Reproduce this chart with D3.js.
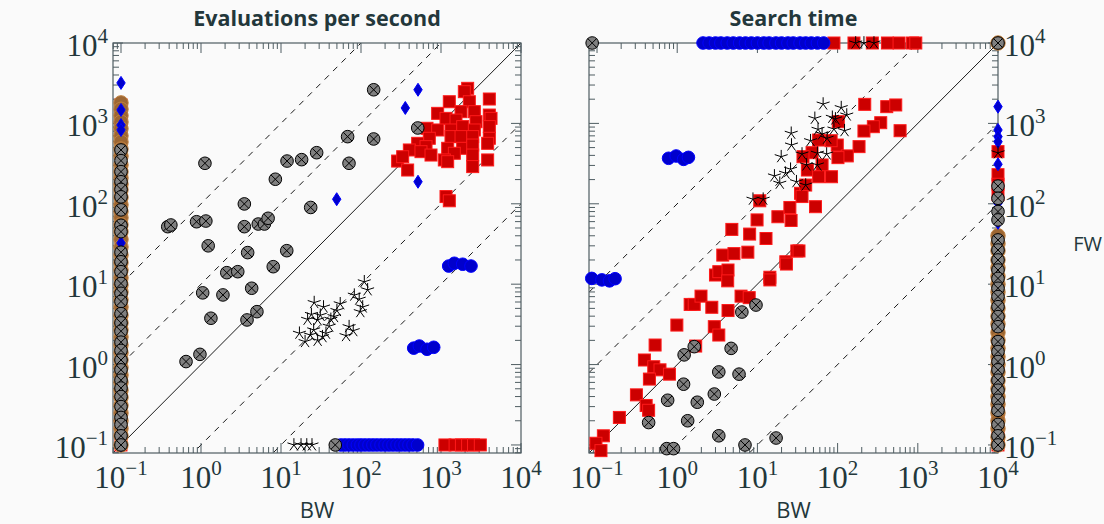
<!DOCTYPE html>
<html>
<head>
<meta charset="utf-8">
<script src="https://cdn.jsdelivr.net/npm/d3@7"></script>
<style>
body { margin: 0; background: #fafafa; }
svg { display: block; }
</style>
</head>
<body>
<svg id="chart" width="1104" height="524"></svg>
<script>
// ---- data ----
// values of 0.1 = "zero" on the log axes, 1e4 = timeout
const majorTicks = [0.1, 1, 10, 100, 1000, 10000];
const tickExponents = ['−1', '0', '1', '2', '3', '4'];
const diagFactors = [0.01, 0.1, 1, 10, 100];

// Evaluations per second: [BW, FW]
const evalRed = [[2154,2730],[1957,2480],[1270,1860],[2260,1860],[4020,2010],[1780,1400],[2610,1400],[908,1333],[1155,1155],[1540,1100],[2740,1050],[4020,1270],[4220,1155],[668,869],[908,828],[1333,828],[1866,912],[2610,828],[4020,912],[714,653],[1333,685],[1780,685],[2490,685],[4020,653],[511,565],[650,514],[402,467],[562,445],[750,404],[1212,490],[1866,490],[2490,538],[3830,565],[1468,425],[1100,351],[1212,334],[2490,404],[2490,290],[3830,351],[287,340],[332,385],[383,263],[1155,123],[1270,109],
  [1120,0.1],[1500,0.1],[1800,0.1],[2150,0.1],[2550,0.1],[3100,0.1],
  [0.1,1700],[0.1,1350],[0.1,1080],[0.1,850],[0.1,0.1]];
const evalBrownFW = [1800,1500,1250,1040,860,700,587,480,390,304,250,210,175,149,120,97,80,67,55,45,36,29,23,18.5,15,12,9.8,8,6.4,5.2,4.1,3.3,2.7,2.2,1.75,1.4,1.14,0.92,0.74,0.6,0.48,0.39,0.31,0.25,0.2,0.16,0.13,0.1];
const evalBlue = [[1248,16.8],[1468,18.2],[1866,17.7],[2371,16.8],[456,1.6],[536,1.7],[668,1.55],[811,1.64]];
const evalBlueZeroFW = [56,63,71,80,90,100,112,126,141,158,178,200,224,251,282,316,355,398,447,510];
const evalDiamond = [[516,2620],[358,1556],[516,188],[49.7,114],[0.1,3190],[0.1,1470],[0.1,955],[0.1,828],[0.1,32.5],[0.1,0.1]];
const evalStar = [[110,10.7],[121,8.5],[82.5,7.3],[95,6.5],[55,5.7],[50,4.7],[105,5.2],[98,4.55],[26,5.9],[34,5.2],[24,4.2],[31,4.1],[21.5,3.65],[42,3.65],[46,3.95],[40,3.0],[28.7,3.6],[25.6,2.7],[36.5,2.45],[17,2.45],[20,1.93],[23.3,2.33],[28.7,2.0],[71,2.96],[80,2.64],[65,2.29],[33,2.22],
  [14.5,0.1],[17.8,0.1],[21,0.1],[24.4,0.1]];
const evalGray = [[144,2620],[512,877],[68,684],[144,640],[1.12,319],[11.9,340],[18.1,354],[27.9,432],[70.8,319],[8.5,202],[3.48,99.6],[23.5,90],[0.384,51.9],[0.42,54.5],[0.88,59.8],[1.15,61],[3.48,51.9],[5.2,56],[6.2,56],[6.9,66],[1.23,30],[3.83,24.7],[11.8,26.1],[8.0,16.5],[2.1,13.9],[2.88,14.3],[1.05,7.8],[1.88,7.35],[4.3,8.9],[5.0,4.55],[3.76,3.59],[1.33,3.77],[0.65,1.09],[0.97,1.34],[47.7,0.1]];
const evalGrayZeroBW = [467,344,251,188,151,122,84,54,45,25,19,14.3,10.2,7.7,6.1,4.3,3.3,2.6,1.9,1.5,1.14,0.86,0.64,0.51,0.40,0.30,0.22,0.18,0.13,0.1];

// Search time: [BW, FW]
const searchRed = [[218,1725],[410,1615],[531,1695],[345,1020],[279,910],[213,804],[601,811],[102,1050],[185,514],[99,538],[132,394],[101,375],[64,304],[58,621],[83,609],[48,432],[37,385],[42,263],[58,217],[84,217],[34.5,135],[40,171],[36,123],[53,92],[10.7,109],[25.4,90],[18,69],[26.3,62],[9.9,63],[4.8,48],[8.0,42],[12.8,37],[3.7,23],[5.1,24],[7.6,25],[3.0,13],[3.3,14.3],[4.3,15],[4.26,11],[6.25,7.1],[7.9,6.8],[14.3,12.2],[14.3,11.3],[22.6,19],[23,17.8],[31,25.9],[33,25.9],[1.45,5.6],[1.63,5.6],[1.98,7.1],[2.7,5.16],[4.3,4.7],[0.99,3.1],[2.9,2.96],[3.3,2.33],[1.7,1.7],[0.53,1.75],[0.39,1.14],[0.51,0.94],[0.61,0.86],[0.80,0.76],[0.45,0.66],[0.31,0.42],[0.41,0.31],[0.44,0.27],[0.19,0.22],[0.12,0.13],[0.097,0.105],[0.112,0.085],
  [90,1e4],[160,1e4],[271,1e4],[418,1e4],[584,1e4],[858,1e4],[944,1e4],
  [1e4,445],[1e4,230],[1e4,175],[1e4,130],[1e4,1.0],[1e4,0.33],[1e4,0.2],[1e4,0.13],[1e4,0.1]];
const searchBrownFW = [1e4,40,32,26,20,16,12.5,10,8,6.3,5,4,3.2,2.5,2,1.6,1.25,1,0.8,0.63,0.5,0.4,0.32,0.25,0.2,0.16,0.125,0.1];
const searchBlue = [[0.78,368],[0.97,393],[1.2,357],[1.38,378],[0.086,11.8],[0.115,11.3],[0.143,11],[0.168,11.7]];
const searchBlueTimeoutBW = [2.1,2.5,3.0,3.5,4.2,5.0,6.0,7.1,8.4,10,12,14,17,20,24,28,34,40,47,56,67];
const searchDiamondFW = [1615,828,684,592,310,102,58,0.1];
const searchStar = [[66,1740],[111,1570],[130,1270],[86,1190],[52,1155],[94,1135],[90,851],[122,811],[57,843],[26.4,753],[26.6,538],[46,609],[74,653],[64,738],[19.8,385],[36,416],[56,425],[73,416],[41,304],[56,304],[25.9,269],[22.4,240],[16.3,222],[19,180],[30.7,188],[40,171],[8.8,114],[11.8,114],
  [168,1e4],[213,1e4],[284,1e4],[1e4,430]];
const searchGray = [[6.4,4.5],[9.6,5.5],[1.63,1.67],[1.22,1.32],[4.7,1.59],[3.3,0.81],[5.9,0.76],[1.2,0.57],[0.76,0.36],[1.78,0.34],[2.9,0.43],[0.44,0.19],[1.35,0.2],[3.3,0.13],[7.0,0.1],[17.1,0.122],[0.74,0.09],[0.9,0.09],[0.087,1e4],[1e4,1e4]];
const searchGrayTimeoutFW = [166,117,80,63,35.5,26.6,20,15,11.8,8.9,7.0,5.25,3.95,2.96,1.93,1.45,1.09,0.86,0.64,0.48,0.36,0.27,0.18,0.13,0.1];

// ---- drawing ----
const textColor = '#23373b';
const axisColor = '#4f5d62';
const svg = d3.select('#chart');
svg.append('rect').attr('width', 1104).attr('height', 524).attr('fill', '#fafafa');

const domain = [Math.pow(10, -1.1), 1e4];

function marker(g, kind) {
    if (kind === 'red') {
        g.append('rect').attr('x', -6).attr('y', -6).attr('width', 12).attr('height', 12)
            .attr('fill', '#cc0000').attr('stroke', '#ff1a1a').attr('stroke-width', 1);
    } else if (kind === 'brown') {
        g.append('circle').attr('r', 7.2).attr('fill', '#9c6633').attr('stroke', '#bf8040').attr('stroke-width', 1);
    } else if (kind === 'blue') {
        g.append('circle').attr('r', 6.3).attr('fill', '#0000cc').attr('stroke', '#0000ff').attr('stroke-width', 1);
    } else if (kind === 'diamond') {
        g.append('path').attr('d', 'M0,-6.5L4.2,0L0,6.5L-4.2,0Z')
            .attr('fill', '#0000cc').attr('stroke', '#0000ff').attr('stroke-width', 1);
    } else if (kind === 'star') {
        const r = 6.8;
        let d = '';
        [90, 162, 234, 306, 18].forEach(a => {
            const t = a * Math.PI / 180;
            d += `M0,0L${(r * Math.cos(t)).toFixed(2)},${(-r * Math.sin(t)).toFixed(2)}`;
        });
        g.append('path').attr('d', d).attr('stroke', '#000').attr('stroke-width', 1).attr('fill', 'none');
    } else if (kind === 'gray') {
        const r = 6.3, c = r * Math.SQRT1_2;
        g.append('circle').attr('r', r).attr('fill', '#808080').attr('stroke', '#000').attr('stroke-width', 1);
        g.append('path').attr('d', `M${-c},${-c}L${c},${c}M${-c},${c}L${c},${-c}`)
            .attr('stroke', '#000').attr('stroke-width', 1);
    }
}

function drawPanel(p) {
    const x = d3.scaleLog().domain(domain).range([p.left, p.right]);
    const y = d3.scaleLog().domain(domain).range([p.bottom, p.top]);
    const g = svg.append('g');

    // diagonals, clipped to the plot box
    const clipId = 'clip-' + p.id;
    svg.append('clipPath').attr('id', clipId).append('rect')
        .attr('x', p.left).attr('y', p.top).attr('width', p.right - p.left).attr('height', p.bottom - p.top);
    const diag = g.append('g').attr('clip-path', `url(#${clipId})`);
    diagFactors.forEach(f => {
        diag.append('line')
            .attr('x1', x(domain[0])).attr('y1', y(domain[0] * f))
            .attr('x2', x(domain[1])).attr('y2', y(domain[1] * f))
            .attr('stroke', '#000').attr('stroke-width', 0.9)
            .attr('stroke-dasharray', f === 1 ? null : '6,6');
    });

    // ticks on all four sides, pointing inward
    const ticks = x.ticks();
    const isMajor = v => Math.abs(Math.log10(v) - Math.round(Math.log10(v))) < 1e-9;
    const tg = g.append('g').attr('stroke', axisColor).attr('stroke-width', 1);
    ticks.forEach(v => {
        const len = isMajor(v) ? 10 : 6;
        const xv = x(v), yv = y(v);
        tg.append('line').attr('x1', xv).attr('x2', xv).attr('y1', p.bottom).attr('y2', p.bottom - len);
        tg.append('line').attr('x1', xv).attr('x2', xv).attr('y1', p.top).attr('y2', p.top + len);
        tg.append('line').attr('y1', yv).attr('y2', yv).attr('x1', p.left).attr('x2', p.left + len);
        tg.append('line').attr('y1', yv).attr('y2', yv).attr('x1', p.right).attr('x2', p.right - len);
    });
    g.append('rect').attr('x', p.left).attr('y', p.top)
        .attr('width', p.right - p.left).attr('height', p.bottom - p.top)
        .attr('fill', 'none').attr('stroke', axisColor).attr('stroke-width', 1.2);

    // tick labels 10^k
    const lab = (sel, exp) => {
        sel.append('tspan').text('10');
        sel.append('tspan').attr('dy', -13).attr('font-size', 21).text(exp);
    };
    majorTicks.forEach((v, i) => {
        const t = g.append('text').attr('x', x(v)).attr('y', 488)
            .attr('text-anchor', 'middle').attr('font-family', 'Liberation Serif, DejaVu Serif, serif')
            .attr('font-size', 31).attr('fill', textColor);
        lab(t, tickExponents[i]);
        const ty = g.append('text')
            .attr('x', p.yLabelSide === 'left' ? p.left - 5 : p.right + 6)
            .attr('y', y(v) + 13)
            .attr('text-anchor', p.yLabelSide === 'left' ? 'end' : 'start')
            .attr('font-family', 'Liberation Serif, DejaVu Serif, serif')
            .attr('font-size', 31).attr('fill', textColor);
        lab(ty, tickExponents[i]);
    });

    // marks
    const marks = g.append('g');
    p.series.forEach(s => {
        marks.append('g').selectAll('g').data(s.points).join('g')
            .attr('transform', d => `translate(${x(d[0])},${y(d[1])})`)
            .each(function () { marker(d3.select(this), s.kind); });
    });

    // title and axis label
    g.append('text').attr('x', (p.left + p.right) / 2).attr('y', 26)
        .attr('text-anchor', 'middle').attr('font-family', 'Open Sans, sans-serif')
        .attr('font-weight', 'bold').attr('font-size', 21.5).attr('fill', textColor).text(p.title);
    g.append('text').attr('x', (p.left + p.right) / 2).attr('y', 518)
        .attr('text-anchor', 'middle').attr('font-family', 'Open Sans, sans-serif')
        .attr('font-size', 22).attr('fill', textColor).text('BW');
}

drawPanel({
    id: 'eval', left: 113, right: 521, top: 43, bottom: 453, yLabelSide: 'left',
    title: 'Evaluations per second',
    series: [
        { kind: 'red', points: evalRed },
        { kind: 'brown', points: evalBrownFW.map(v => [0.1, v]) },
        { kind: 'blue', points: evalBlue.concat(evalBlueZeroFW.map(v => [v, 0.1])) },
        { kind: 'diamond', points: evalDiamond },
        { kind: 'star', points: evalStar },
        { kind: 'gray', points: evalGray.concat(evalGrayZeroBW.map(v => [0.1, v])) }
    ]
});

drawPanel({
    id: 'search', left: 589, right: 998, top: 43, bottom: 453, yLabelSide: 'right',
    title: 'Search time',
    series: [
        { kind: 'red', points: searchRed },
        { kind: 'brown', points: searchBrownFW.map(v => [1e4, v]) },
        { kind: 'blue', points: searchBlue.concat(searchBlueTimeoutBW.map(v => [v, 1e4])) },
        { kind: 'diamond', points: searchDiamondFW.map(v => [1e4, v]) },
        { kind: 'star', points: searchStar },
        { kind: 'gray', points: searchGray.concat(searchGrayTimeoutFW.map(v => [1e4, v])) }
    ]
});

svg.append('text').attr('x', 1102).attr('y', 251)
    .attr('text-anchor', 'end').attr('font-family', 'Open Sans, sans-serif')
    .attr('font-size', 20).attr('fill', textColor).text('FW');
</script>
</body>
</html>
